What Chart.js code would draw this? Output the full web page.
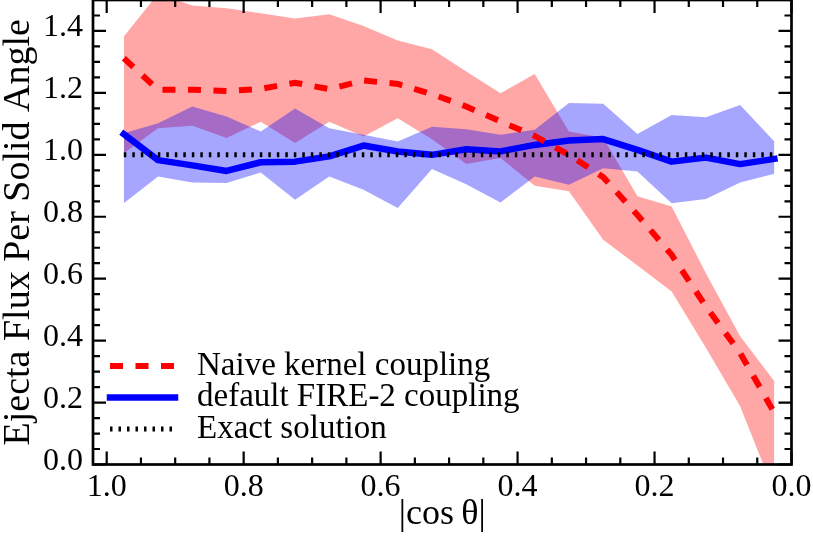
<!DOCTYPE html>
<html>
<head>
<meta charset="utf-8">
<script src="https://cdn.jsdelivr.net/npm/chart.js@4.4.1/dist/chart.umd.min.js"></script>
<style>
   html, body { margin: 0; padding: 0; background: #fff; }
   #chart1 { display: block; }
</style>
</head>
<body>
<canvas id="chart1" width="813" height="549"></canvas>
<script>
// bin centres of |cos theta|
const cosTheta = [0.975, 0.925, 0.875, 0.825, 0.775, 0.725, 0.675, 0.625, 0.575, 0.525,
                  0.475, 0.425, 0.375, 0.325, 0.275, 0.225, 0.175, 0.125, 0.075, 0.025];

const naiveMean = [1.312, 1.21, 1.21, 1.206, 1.213, 1.233, 1.212, 1.24, 1.229, 1.196,
                   1.156, 1.108, 1.061, 1.0, 0.928, 0.806, 0.677, 0.51, 0.36, 0.167];
const naiveHigh = [1.382, 1.52, 1.482, 1.473, 1.457, 1.44, 1.454, 1.416, 1.369, 1.341,
                   1.269, 1.199, 1.261, 1.075, 1.055, 0.866, 0.833, 0.618, 0.414, 0.269];
const naiveLow = [1.005, 1.086, 1.094, 1.054, 1.107, 1.038, 1.107, 1.059, 1.118, 1.05,
                  0.97, 0.99, 0.90, 0.882, 0.726, 0.643, 0.559, 0.377, 0.188, -0.09];

const fireMean = [1.067, 0.983, 0.966, 0.948, 0.976, 0.978, 0.995, 1.03, 1.011, 1.0,
                  1.018, 1.011, 1.032, 1.046, 1.051, 1.016, 0.978, 0.991, 0.97, 0.987];
const fireHigh = [1.07, 1.102, 1.156, 1.124, 1.075, 1.15, 1.086, 1.065, 1.043, 1.091,
                  1.083, 1.065, 1.081, 1.167, 1.165, 1.067, 1.129, 1.121, 1.161, 1.043];
const fireLow = [0.844, 0.93, 0.911, 0.909, 0.943, 0.855, 0.93, 0.887, 0.828, 0.954,
                 0.905, 0.846, 0.93, 0.903, 0.957, 0.946, 0.844, 0.857, 0.911, 0.939];

const exactVals = [1.0, 1.0, 1.0, 1.0, 1.0, 1.0, 1.0, 1.0, 1.0, 1.0,
                   1.0, 1.0, 1.0, 1.0, 1.0, 1.0, 1.0, 1.0, 1.0, 1.0];

const xTickLabels = [1.0, 0.8, 0.6, 0.4, 0.2, 0.0];
const yTickLabels = [0.0, 0.2, 0.4, 0.6, 0.8, 1.0, 1.2, 1.4];
const seriesNames = ["Naive kernel coupling", "default FIRE-2 coupling", "Exact solution"];

const serif = "'Liberation Serif', 'Times New Roman', serif";

function points(vals) {
   return cosTheta.map((c, i) => ({ x: c, y: vals[i] }));
}

function band(vals, color, fill, order) {
   return {
      data: points(vals),
      borderColor: 'rgba(0,0,0,0)',
      borderWidth: 0,
      backgroundColor: color,
      pointRadius: 0,
      fill: fill,
      order: order
   };
}

// inward ticks on all four sides plus the frame
const frameTicks = {
   id: 'frameTicks',
   afterDraw(chart) {
      const { ctx, chartArea: a, scales: { x, y } } = chart;
      ctx.save();
      ctx.strokeStyle = '#000';
      ctx.lineWidth = 2.2;
      ctx.beginPath();
      for (let k = 0; k <= 20; k++) {
         const len = k % 4 === 0 ? 13 : 7;
         const px = x.getPixelForValue(k * 0.05);
         ctx.moveTo(px, a.bottom);
         ctx.lineTo(px, a.bottom - len);
         ctx.moveTo(px, a.top);
         ctx.lineTo(px, a.top + len);
      }
      for (let k = 0; k <= 30; k++) {
         const len = k % 4 === 0 ? 13 : 7;
         const py = y.getPixelForValue(k * 0.05);
         ctx.moveTo(a.left, py);
         ctx.lineTo(a.left + len, py);
         ctx.moveTo(a.right, py);
         ctx.lineTo(a.right - len, py);
      }
      ctx.stroke();
      ctx.lineWidth = 2.7;
      ctx.strokeRect(a.left, a.top, a.right - a.left, a.bottom - a.top);
      ctx.restore();
   }
};

// legend sitting inside the plot, lower left
const insideLegend = {
   id: 'insideLegend',
   afterDraw(chart) {
      const { ctx, chartArea: a } = chart;
      const rows = chart.data.datasets.filter(d => d.label);
      ctx.save();
      rows.forEach((d, k) => {
         const yy = a.bottom - 98.5 + k * 31.5;
         ctx.beginPath();
         ctx.strokeStyle = d.borderColor;
         ctx.lineWidth = d.borderWidth;
         ctx.lineCap = d.borderCapStyle || 'butt';
         ctx.setLineDash(d.borderDash || []);
         ctx.moveTo(a.left + 17, yy);
         ctx.lineTo(a.left + 82, yy);
         ctx.stroke();
         ctx.setLineDash([]);
         ctx.fillStyle = '#000';
         ctx.font = `33px ${serif}`;
         ctx.textBaseline = 'middle';
         ctx.textAlign = 'left';
         ctx.fillText(d.label, a.left + 104, yy);
      });
      ctx.restore();
   }
};

const config = {
   type: 'line',
   data: {
      datasets: [
         band(naiveHigh, 'rgba(255,0,0,0.35)', false, 10),
         band(naiveLow, 'rgba(255,0,0,0.35)', '-1', 9),
         band(fireHigh, 'rgba(0,0,255,0.35)', false, 8),
         band(fireLow, 'rgba(0,0,255,0.35)', '-1', 7),
         {
            label: seriesNames[0],
            data: points(naiveMean),
            borderColor: '#ff0000',
            borderWidth: 6,
            borderDash: [13, 12.5],
            borderCapStyle: 'butt',
            pointRadius: 0,
            fill: false,
            order: 3
         },
         {
            label: seriesNames[1],
            data: points(fireMean),
            borderColor: '#0000ff',
            borderWidth: 6.5,
            borderCapStyle: 'square',
            borderJoinStyle: 'round',
            pointRadius: 0,
            fill: false,
            order: 4
         },
         {
            label: seriesNames[2],
            data: points(exactVals),
            borderColor: '#000000',
            borderWidth: 5,
            borderDash: [2.5, 6],
            borderCapStyle: 'butt',
            pointRadius: 0,
            fill: false,
            order: 1
         }
      ]
   },
   options: {
      responsive: false,
      animation: false,
      devicePixelRatio: 1,
      layout: { padding: { left: 0, right: 21.5, top: 0, bottom: 0 } },
      elements: { line: { tension: 0 } },
      plugins: {
         legend: { display: false },
         tooltip: { enabled: false },
         filler: { propagate: false }
      },
      scales: {
         x: {
            type: 'linear',
            reverse: true,
            min: 0,
            max: 1.02,
            grid: { display: false, drawTicks: false },
            border: { display: false },
            afterBuildTicks: (s) => { s.ticks = xTickLabels.map(v => ({ value: v })); },
            afterFit: (s) => { s.height = 84.5; s.paddingLeft = 0; s.paddingRight = 0; },
            ticks: {
               color: '#000',
               padding: 4,
               maxRotation: 0,
               autoSkip: false,
               font: { family: serif, size: 32 },
               callback: (v) => Number(v).toFixed(1)
            },
            title: {
               display: true,
               text: '|cos\u2009\u03b8|',
               color: '#000',
               font: { family: serif, size: 36 },
               padding: { top: 0, bottom: 13 }
            }
         },
         y: {
            type: 'linear',
            min: 0,
            max: 1.5,
            grid: { display: false, drawTicks: false },
            border: { display: false },
            afterBuildTicks: (s) => { s.ticks = yTickLabels.map(v => ({ value: v })); },
            afterFit: (s) => { s.width = 93; s.paddingTop = 0; s.paddingBottom = 0; },
            ticks: {
               color: '#000',
               padding: 10,
               autoSkip: false,
               labelOffset: -3,
               font: { family: serif, size: 32 },
               callback: (v) => Number(v).toFixed(1)
            },
            title: {
               display: true,
               text: 'Ejecta Flux Per Solid Angle',
               color: '#000',
               font: { family: serif, size: 38, lineHeight: 1.0 },
               padding: { top: 0, bottom: 0 }
            }
         }
      }
   },
   plugins: [frameTicks, insideLegend]
};

const chart = new Chart(document.getElementById('chart1'), config);
</script>
</body>
</html>
